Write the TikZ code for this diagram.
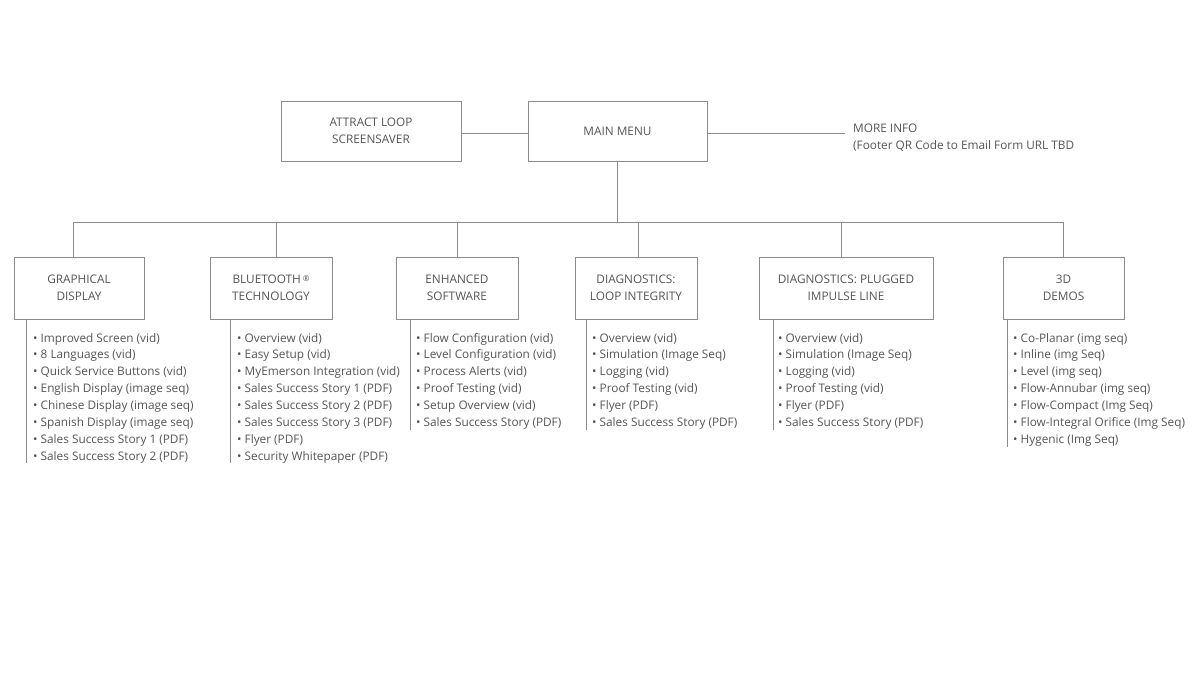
\documentclass[tikz,border=0pt]{standalone}
\usepackage{fontspec}
\setmainfont{Open Sans}
\definecolor{linegray}{HTML}{8C8C8C}
\definecolor{textgray}{HTML}{555555}
\newcommand\itemlist[4]{% name, x, first baseline, items
  \foreach \t [count=\i] in {#4}
    \node[item] (#1-\i) at (#2,#3+16.9*\i-16.9) {\textbullet\ \t};
}
\newcommand\listline[3]{% box node, shift from left, end y
  \coordinate (#1-top) at ([xshift=#2]#1.south west);
  \coordinate (#1-end) at (#1-top |- 0,#3);
  \draw[edge] (#1-top) -- (#1-end);
}

\begin{document}
\begin{tikzpicture}[x=1pt,y=-1pt]
  \tikzset{
    every node/.style={font=\fontsize{11.8}{17}\selectfont,text=textgray},
    menubox/.style={draw=linegray,line width=0.8pt,align=center,minimum height=60pt},
    item/.style={anchor=base west,inner sep=0pt},
    edge/.style={draw=linegray,line width=0.8pt},
  }
  \useasboundingbox[fill=white] (0,0) rectangle (1200,675);

  \node [menubox,minimum width=180pt] (al) at (371,131)   {ATTRACT LOOP\\SCREENSAVER};
  \node [menubox,minimum width=179pt] (mm) at (617.5,131) {MAIN MENU};
  \node [anchor=north west,inner sep=0pt,align=left] (mi) at (853,124)
    {MORE INFO\\(Footer QR Code to Email Form URL TBD};
  \coordinate (mi-end) at (845,133);

  \node [menubox,minimum width=130pt,minimum height=62pt] (gd) at (79,288)    {GRAPHICAL\\DISPLAY};
  \node [menubox,minimum width=122pt,minimum height=62pt] (bt) at (271,288)   {BLUETOOTH\,\raisebox{0.35ex}{\footnotesize\textregistered}\\TECHNOLOGY};
  \node [menubox,minimum width=122pt,minimum height=62pt] (es) at (457,288)   {ENHANCED\\SOFTWARE};
  \node [menubox,minimum width=122pt,minimum height=62pt] (dl) at (636,288)   {DIAGNOSTICS:\\LOOP INTEGRITY};
  \node [menubox,minimum width=174pt,minimum height=62pt] (dp) at (846,288)   {DIAGNOSTICS: PLUGGED\\IMPULSE LINE};
  \node [menubox,minimum width=121pt,minimum height=62pt] (dm) at (1063.5,288) {3D\\DEMOS};

  % bus
  \coordinate (bus-gd) at (73,222);
  \coordinate (bus-bt) at (276,222);
  \coordinate (bus-es) at (457,222);
  \coordinate (bus-dl) at (638,222);
  \coordinate (bus-dp) at (841,222);
  \coordinate (bus-dm) at (1063,222);

  \draw[edge] (al.east |- mi-end) -- (mm.west |- mi-end);
  \draw[edge] (mm.east |- mi-end) -- (mi-end);
  \draw[edge] (mm.south) -- (mm.south |- bus-gd);
  \draw[edge] (bus-gd) -- (bus-dm);
  \foreach \b in {gd,bt,es,dl,dp,dm}
    \draw[edge] (bus-\b) -- (bus-\b |- \b.north);

  \listline{gd}{13pt}{463}
  \listline{bt}{21pt}{463}
  \listline{es}{15pt}{430}
  \listline{dl}{12pt}{430}
  \listline{dp}{15pt}{430}
  \listline{dm}{5pt}{447}

  \itemlist{gd}{33}{342}{Improved Screen (vid),8 Languages (vid),Quick Service Buttons (vid),
    English Display (image seq),Chinese Display (image seq),Spanish Display (image seq),
    Sales Success Story 1 (PDF),Sales Success Story 2 (PDF)}
  \itemlist{bt}{237}{342}{Overview (vid),Easy Setup (vid),MyEmerson Integration (vid),
    Sales Success Story 1 (PDF),Sales Success Story 2 (PDF),Sales Success Story 3 (PDF),
    Flyer (PDF),Security Whitepaper (PDF)}
  \itemlist{es}{416}{342}{Flow Configuration (vid),Level Configuration (vid),Process Alerts (vid),
    Proof Testing (vid),Setup Overview (vid),Sales Success Story (PDF)}
  \itemlist{dl}{592}{342}{Overview (vid),Simulation (Image Seq),Logging (vid),
    Proof Testing (vid),Flyer (PDF),Sales Success Story (PDF)}
  \itemlist{dp}{778}{342}{Overview (vid),Simulation (Image Seq),Logging (vid),
    Proof Testing (vid),Flyer (PDF),Sales Success Story (PDF)}
  \itemlist{dm}{1013}{342}{Co-Planar (img seq),Inline (img Seq),Level (img seq),
    Flow-Annubar (img seq),Flow-Compact (Img Seq),Flow-Integral Orifice (Img Seq),
    Hygenic (Img Seq)}
\end{tikzpicture}
\end{document}
